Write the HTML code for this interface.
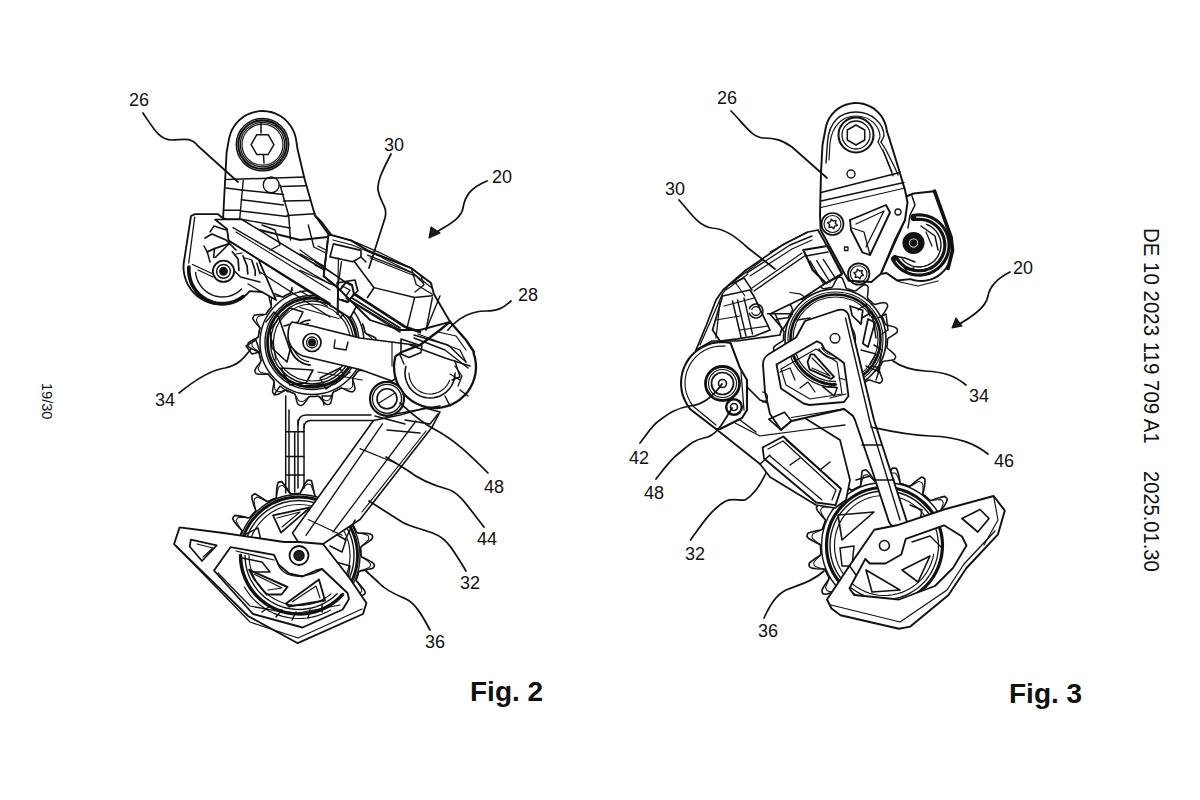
<!DOCTYPE html>
<html><head><meta charset="utf-8">
<style>
html,body{margin:0;padding:0;background:#fff;width:1200px;height:800px;overflow:hidden;}
body{position:relative;font-family:"Liberation Sans",sans-serif;color:#111;}
.t{position:absolute;white-space:nowrap;line-height:1;}
.rot{transform-origin:0 0;transform:rotate(90deg);}
.fig{font-weight:bold;font-size:28px;}
svg{position:absolute;left:0;top:0;}
svg text{font-family:"Liberation Sans",sans-serif;fill:#111;stroke:none;}
</style></head><body>
<svg width="1200" height="800" viewBox="0 0 1200 800" fill="none" stroke="#111" stroke-width="1.5" stroke-linecap="round" stroke-linejoin="round">
<path d="M342.8,511.7 L344.6,512.1 L348.5,510.7 L352.4,509.4 L356.5,508.3 L358.9,508.7 L360.0,510.2 L360.1,512.4 L358.0,516.1 L355.7,519.5 L353.3,522.9 L352.9,524.9 L353.7,526.3 L354.4,527.6 L355.0,529.0 L355.7,530.3 L356.3,531.7 L357.6,532.8 L361.8,533.0 L365.9,533.4 L370.1,533.9 L372.2,535.2 L372.7,537.0 L372.0,539.0 L368.7,541.6 L365.3,543.9 L361.8,546.1 L360.5,547.9 L360.7,549.4 L360.8,550.9 L360.9,552.4 L361.0,553.9 L361.0,555.4 L361.8,557.0 L365.5,558.7 L369.2,560.6 L372.8,562.7 L374.4,564.7 L374.2,566.6 L372.9,568.2 L368.8,569.3 L364.7,570.2 L360.7,570.9 L358.8,571.9 L358.4,573.4 L357.9,574.9 L357.4,576.3 L356.9,577.7 L356.3,579.1 L356.4,580.8 L359.2,583.8 L361.8,587.0 L364.4,590.3 L365.2,592.8 L364.3,594.4 L362.5,595.5 L358.3,595.0 L354.2,594.2 L350.2,593.3 L348.0,593.5 L347.0,594.7 L346.0,595.9 L345.0,597.0 L344.0,598.2 L342.9,599.2 L342.3,600.7 L343.7,604.6 L345.0,608.6 L346.1,612.6 L345.9,615.3 L344.4,616.4 L342.4,616.8 L338.8,614.7 L335.3,612.5 L331.9,610.1 L329.7,609.4 L328.4,610.1 L327.0,610.8 L325.7,611.5 L324.3,612.1 L322.9,612.7 L321.7,613.8 L321.5,617.9 L321.2,622.0 L320.7,626.2 L319.5,628.7 L317.7,629.2 L315.7,628.8 L313.1,625.5 L310.8,622.1 L308.6,618.6 L306.8,617.0 L305.3,617.2 L303.8,617.3 L302.2,617.4 L300.7,617.5 L299.2,617.5 L297.7,617.9 L296.0,621.7 L294.1,625.4 L292.0,629.0 L290.0,631.0 L288.1,630.7 L286.4,629.7 L285.3,625.7 L284.4,621.6 L283.7,617.5 L282.7,615.3 L281.2,614.9 L279.8,614.4 L278.3,614.0 L276.9,613.4 L275.5,612.9 L274.0,612.6 L271.0,615.4 L267.8,618.1 L264.5,620.7 L261.8,621.8 L260.2,620.8 L258.9,619.3 L259.5,615.2 L260.2,611.1 L261.1,607.0 L261.1,604.5 L259.9,603.6 L258.7,602.6 L257.6,601.6 L256.4,600.6 L255.4,599.5 L254.1,598.6 L250.2,600.1 L246.3,601.4 L242.3,602.5 L239.3,602.5 L238.2,601.1 L237.5,599.2 L239.6,595.6 L241.8,592.1 L244.2,588.7 L245.2,586.3 L244.5,585.0 L243.8,583.6 L243.1,582.3 L242.4,580.9 L241.8,579.5 L241.1,578.2 L237.0,578.0 L232.9,577.7 L228.7,577.2 L225.9,576.1 L225.4,574.4 L225.4,572.4 L228.7,569.9 L232.1,567.5 L235.6,565.3 L237.5,563.4 L237.3,561.9 L237.2,560.4 L237.1,558.9 L237.0,557.4 L237.0,555.8 L236.9,554.3 L233.2,552.6 L229.5,550.8 L225.8,548.7 L223.5,546.6 L223.8,544.8 L224.4,543.0 L228.5,541.9 L232.5,541.0 L236.6,540.3 L239.1,539.3 L239.6,537.9 L240.0,536.4 L240.5,535.0 L241.0,533.5 L241.6,532.1 L242.2,530.7 L239.3,527.7 L236.6,524.6 L234.0,521.3 L232.6,518.5 L233.6,516.8 L234.8,515.4 L238.9,515.9 L243.1,516.6 L247.1,517.5 L249.9,517.7 L250.8,516.5 L251.8,515.3 L252.8,514.2 L253.8,513.0 L254.9,512.0 L255.9,510.9 L254.5,507.1 L253.2,503.2 L252.1,499.1 L251.8,495.9 L253.3,494.8 L254.9,493.8 L258.6,495.9 L262.1,498.1 L265.5,500.5 L268.1,501.8 L269.4,501.0 L270.7,500.3 L272.1,499.6 L273.5,499.0 L274.9,498.4 L276.3,497.8 L276.4,493.9 L276.7,489.7 L277.2,485.6 L278.2,482.4 L280.0,481.9 L281.8,481.6 L284.4,484.9 L286.8,488.3 L289.1,491.8 L290.9,494.0 L292.5,493.8 L294.0,493.7 L295.5,493.6 L297.0,493.5 L298.5,493.5 L300.0,493.5 L301.7,490.0 L303.6,486.3 L305.6,482.7 L307.7,480.0 L309.5,480.2 L311.4,480.5 L312.5,484.6 L313.4,488.7 L314.2,492.7 L315.0,495.6" stroke-width="1.61"/>
<path d="M342.8,511.7 L344.4,512.3 L347.5,511.6 L350.6,511.0 L353.7,510.6 L355.8,511.2 L356.8,512.6 L357.1,514.5 L355.9,517.5 L354.5,520.3 L353.0,523.1 L352.9,524.9 L353.7,526.3 L354.4,527.6 L355.0,529.0 L355.7,530.3 L356.3,531.7 L357.4,532.9 L360.5,533.5 L363.6,534.1 L366.7,534.9 L368.4,536.2 L368.8,538.0 L368.4,539.8 L366.1,542.1 L363.8,544.2 L361.4,546.2 L360.5,547.9 L360.7,549.4 L360.8,550.9 L360.9,552.4 L361.0,553.9 L361.0,555.4 L361.5,557.0 L364.2,558.6 L366.8,560.4 L369.4,562.3 L370.5,564.2 L370.2,566.0 L369.2,567.6 L366.2,568.8 L363.2,569.8 L360.2,570.7 L358.8,571.9 L358.4,573.4 L357.9,574.9 L357.4,576.3 L356.9,577.7 L356.3,579.1 L356.2,580.7 L358.0,583.3 L359.7,585.9 L361.4,588.7 L361.7,590.9 L360.8,592.4 L359.3,593.5 L356.1,593.5 L352.9,593.3 L349.8,593.0 L348.0,593.5 L347.0,594.7 L346.0,595.9 L345.0,597.0 L344.0,598.2 L342.9,599.2 L342.2,600.6 L342.9,603.7 L343.4,606.8 L343.9,610.0 L343.4,612.2 L342.0,613.2 L340.2,613.7 L337.3,612.5 L334.4,611.1 L331.6,609.6 L329.7,609.4 L328.4,610.1 L327.0,610.8 L325.7,611.5 L324.3,612.1 L322.9,612.7 L321.6,613.6 L321.1,616.7 L320.5,619.8 L319.7,622.9 L318.4,624.8 L316.7,625.3 L314.9,625.1 L312.6,622.9 L310.5,620.5 L308.5,618.1 L306.8,617.0 L305.3,617.2 L303.8,617.3 L302.2,617.4 L300.7,617.5 L299.2,617.5 L297.7,617.8 L296.0,620.5 L294.2,623.1 L292.3,625.6 L290.4,627.0 L288.7,626.8 L287.0,626.0 L285.8,623.0 L284.8,620.0 L283.8,617.0 L282.7,615.3 L281.2,614.9 L279.8,614.4 L278.3,614.0 L276.9,613.4 L275.5,612.9 L274.0,612.5 L271.5,614.3 L268.8,616.1 L266.1,617.7 L263.8,618.3 L262.2,617.4 L261.0,616.1 L261.0,612.9 L261.2,609.7 L261.4,606.6 L261.1,604.5 L259.9,603.6 L258.7,602.6 L257.6,601.6 L256.4,600.6 L255.4,599.5 L254.2,598.6 L251.1,599.3 L248.0,599.9 L244.8,600.4 L242.4,600.1 L241.4,598.7 L240.6,597.0 L241.9,594.1 L243.3,591.2 L244.7,588.4 L245.2,586.3 L244.5,585.0 L243.8,583.6 L243.1,582.3 L242.4,580.9 L241.8,579.5 L241.1,578.2 L238.1,577.7 L235.0,577.0 L231.9,576.2 L229.7,575.1 L229.3,573.4 L229.1,571.6 L231.4,569.3 L233.8,567.2 L236.2,565.2 L237.5,563.4 L237.3,561.9 L237.2,560.4 L237.1,558.9 L237.0,557.4 L237.0,555.8 L236.9,554.3 L234.3,552.7 L231.7,550.9 L229.1,549.0 L227.5,547.1 L227.7,545.3 L228.2,543.6 L231.2,542.4 L234.2,541.4 L237.2,540.4 L239.1,539.3 L239.6,537.9 L240.0,536.4 L240.5,535.0 L241.0,533.5 L241.6,532.1 L242.2,530.7 L240.3,528.2 L238.6,525.6 L236.9,522.8 L236.1,520.4 L237.0,518.9 L238.1,517.5 L241.3,517.5 L244.5,517.6 L247.6,517.9 L249.9,517.7 L250.8,516.5 L251.8,515.3 L252.8,514.2 L253.8,513.0 L254.9,512.0 L255.9,510.9 L255.3,507.9 L254.6,504.8 L254.2,501.6 L254.3,499.0 L255.7,498.0 L257.2,497.0 L260.2,498.3 L263.1,499.6 L265.9,501.1 L268.1,501.8 L269.4,501.0 L270.7,500.3 L272.1,499.6 L273.5,499.0 L274.9,498.4 L276.3,497.8 L276.8,494.8 L277.4,491.7 L278.2,488.6 L279.3,486.3 L281.0,485.8 L282.7,485.4 L285.0,487.7 L287.1,490.1 L289.2,492.5 L290.9,494.0 L292.5,493.8 L294.0,493.7 L295.5,493.6 L297.0,493.5 L298.5,493.5 L300.0,493.5 L301.7,491.0 L303.4,488.4 L305.3,485.8 L307.2,484.0 L309.0,484.2 L310.7,484.5 L312.0,487.5 L313.1,490.4 L314.0,493.4 L315.0,495.6" stroke-width="1.03"/>
<circle cx="299.0" cy="555.5" r="61.0" stroke-width="1.38" fill="#fff"/>
<circle cx="299.0" cy="555.5" r="58.5" stroke-width="2.99"/>
<circle cx="299.0" cy="555.5" r="55.0" stroke-width="1.38"/>
<circle cx="299.0" cy="555.5" r="51.0" stroke-width="1.15"/>
<path d="M273.0,515.3 L310.3,507.3 L281.0,532.7 L273.0,515.3" stroke-width="1.72"/>
<path d="M277.0,518.0 L300.0,512.0 L282.0,527.0" stroke-width="1.15"/>
<path d="M244.0,535.0 L258.0,528.0 L262.0,545.0 L250.0,548.0 L244.0,535.0" stroke-width="1.49"/>
<path d="M332.0,532.0 L346.0,540.0 L342.0,552.0 L330.0,546.0" stroke-width="1.49"/>
<path d="M336.0,562.0 L350.0,566.0 L346.0,590.0 L334.0,586.0" stroke-width="1.49"/>
<path d="M285.7,396.0 L285.7,493.0" stroke-width="1.49"/>
<path d="M289.0,410.0 L289.0,492.0"/>
<path d="M294.7,432.0 L294.7,492.0"/>
<path d="M298.0,420.0 L298.0,488.0"/>
<path d="M304.0,424.0 L304.0,488.0" stroke-width="1.49"/>
<path d="M298,425 Q298,415 306,415 L371,415" stroke-width="1.49"/>
<path d="M304,428 Q304,420.5 311,420.5 L373,420.5" stroke-width="1.26"/>
<path d="M286.0,431.7 L304.0,431.7"/>
<path d="M286.0,456.5 L304.0,456.5"/>
<path d="M286.0,475.0 L304.0,475.0"/>
<path d="M362.7,324.0 L363.2,325.5 L363.7,326.9 L364.1,328.3 L364.5,329.8 L364.8,331.3 L365.1,332.7 L367.1,334.0 L370.0,335.2 L372.9,336.5 L375.7,338.0 L375.9,339.8 L376.0,341.6 L374.1,343.3 L371.4,345.0 L368.6,346.4 L365.8,347.7 L365.6,349.2 L365.4,350.7 L365.1,352.2 L364.8,353.7 L364.5,355.2 L364.1,356.6 L365.1,358.5 L367.2,360.8 L369.3,363.3 L371.2,365.9 L370.9,367.6 L370.1,369.3 L367.9,370.2 L364.7,370.5 L361.6,370.6 L358.5,370.6 L357.4,371.7 L356.6,372.9 L355.7,374.2 L354.8,375.4 L353.9,376.6 L352.9,377.7 L352.9,379.7 L353.7,382.7 L354.5,385.8 L355.1,388.9 L354.2,390.6 L352.9,391.7 L350.7,391.8 L347.7,390.7 L344.8,389.4 L341.9,388.1 L340.4,388.4 L339.1,389.2 L337.8,389.9 L336.5,390.6 L335.1,391.3 L333.7,391.9 L332.7,393.4 L332.2,396.5 L331.6,399.6 L330.8,402.7 L329.4,404.1 L327.6,404.6 L325.7,403.9 L323.4,401.6 L321.3,399.2 L319.4,396.8 L317.8,396.2 L316.3,396.3 L314.8,396.4 L313.3,396.5 L311.8,396.5 L310.3,396.5 L308.7,397.1 L307.0,399.7 L305.1,402.2 L303.0,404.7 L301.1,405.6 L299.3,405.2 L297.8,404.0 L296.7,401.0 L295.9,397.9 L295.2,394.9 L294.1,393.4 L292.6,392.9 L291.2,392.4 L289.9,391.8 L288.5,391.1 L287.2,390.4 L285.6,390.1 L282.9,391.7 L280.1,393.2 L277.2,394.5 L274.9,394.7 L273.5,393.6 L272.5,392.1 L272.8,388.9 L273.4,385.8 L274.0,382.7 L273.8,380.7 L272.8,379.6 L271.8,378.5 L270.8,377.4 L269.8,376.2 L268.9,375.0 L267.8,373.9 L264.7,374.2 L261.6,374.3 L258.4,374.3 L256.1,373.6 L255.2,372.0 L254.7,370.3 L256.4,367.5 L258.2,364.9 L260.2,362.5 L261.1,360.5 L260.6,359.1 L260.2,357.6 L259.8,356.2 L259.4,354.7 L259.1,353.2 L258.8,351.8 L255.9,350.7 L253.0,349.4 L250.2,348.0 L248.1,346.4 L248.0,344.6 L248.1,342.8 L250.8,341.1 L253.6,339.5 L256.4,338.1 L258.3,336.8 L258.5,335.3 L258.7,333.8 L259.0,332.3 L259.3,330.8 L259.6,329.4 L260.0,327.9 L258.1,325.7 L256.1,323.4 L254.1,320.9 L252.7,318.5 L253.4,316.8 L254.1,315.2 L257.2,314.7 L260.3,314.5 L263.5,314.4 L266.0,314.2 L266.8,312.9 L267.7,311.6 L268.6,310.4 L269.5,309.2 L270.4,308.0 L271.4,306.9 L270.8,304.3 L270.0,301.3 L269.3,298.2 L268.9,295.2 L270.2,294.0 L271.6,292.9 L274.4,293.6 L277.3,294.7 L280.2,296.0 L282.8,297.1 L284.0,296.3 L285.3,295.5 L286.7,294.8 L288.0,294.1 L289.4,293.5 L290.7,292.9 L291.4,290.5 L292.0,287.4" stroke-width="1.49"/>
<circle cx="312.0" cy="342.5" r="52.0" stroke-width="1.49" fill="#fff"/>
<circle cx="312.0" cy="342.5" r="47.0" stroke-width="1.38"/>
<circle cx="312.0" cy="342.5" r="44.5" stroke-width="2.76"/>
<circle cx="312.0" cy="342.5" r="41.5" stroke-width="1.38"/>
<circle cx="312.0" cy="342.5" r="38.5" stroke-width="1.15"/>
<path d="M362.7,324.0 L363.2,325.5 L363.7,326.9 L364.1,328.3 L364.5,329.8 L364.8,331.3 L365.1,332.7 L366.4,334.1 L368.2,335.4 L370.0,336.8 L371.8,338.3 L371.9,340.0 L372.0,341.6 L370.9,343.3 L369.2,344.9 L367.5,346.3 L365.8,347.7 L365.6,349.2 L365.4,350.7 L365.1,352.2 L364.8,353.7 L364.5,355.2 L364.1,356.6 L364.6,358.3 L365.7,360.3 L366.7,362.3 L367.6,364.4 L367.2,366.1 L366.5,367.6 L364.9,368.7 L362.7,369.4 L360.5,370.0 L358.4,370.5 L357.4,371.7 L356.6,372.9 L355.7,374.2 L354.8,375.4 L353.9,376.6 L352.9,377.7 L352.5,379.4 L352.6,381.6 L352.6,383.9 L352.6,386.2 L351.6,387.6 L350.3,388.7 L348.5,389.1 L346.2,388.8 L344.0,388.4 L341.8,387.9 L340.4,388.4 L339.1,389.2 L337.8,389.9 L336.5,390.6 L335.1,391.3 L333.7,391.9 L332.6,393.1 L331.7,395.1 L330.8,397.2 L329.7,399.3 L328.3,400.3 L326.7,400.7 L324.9,400.4 L323.0,399.2 L321.1,397.8 L319.3,396.5 L317.8,396.2 L316.3,396.3 L314.8,396.4 L313.3,396.5 L311.8,396.5 L310.3,396.5 L308.7,396.8 L307.1,398.3 L305.3,399.8 L303.5,401.2 L301.8,401.6 L300.1,401.3 L298.6,400.5 L297.4,398.5 L296.3,396.5 L295.3,394.5 L294.1,393.4 L292.6,392.9 L291.2,392.4 L289.9,391.8 L288.5,391.1 L287.2,390.4 L285.7,390.0 L283.5,390.6 L281.4,391.2 L279.1,391.7 L277.3,391.4 L275.9,390.4 L274.8,389.1 L274.6,386.8 L274.4,384.6 L274.4,382.3 L273.8,380.7 L272.8,379.6 L271.8,378.5 L270.8,377.4 L269.8,376.2 L268.9,375.0 L267.9,373.9 L265.7,373.6 L263.5,373.1 L261.2,372.6 L259.5,371.6 L258.8,370.2 L258.2,368.6 L259.0,366.4 L259.8,364.3 L260.7,362.2 L261.1,360.5 L260.6,359.1 L260.2,357.6 L259.8,356.2 L259.4,354.7 L259.1,353.2 L258.8,351.8 L257.0,350.5 L255.2,349.2 L253.4,347.7 L252.1,346.2 L252.0,344.5 L252.0,342.8 L253.7,341.2 L255.4,339.6 L257.1,338.2 L258.3,336.8 L258.5,335.3 L258.7,333.8 L259.0,332.3 L259.3,330.8 L259.6,329.4 L260.0,327.9 L259.1,326.0 L258.0,324.0 L257.0,322.0 L256.4,320.0 L257.0,318.4 L257.7,316.9 L259.8,316.1 L262.0,315.4 L264.2,314.8 L266.0,314.2 L266.8,312.9 L267.7,311.6 L268.6,310.4 L269.5,309.2 L270.4,308.0 L271.4,306.9 L271.5,304.9 L271.4,302.7 L271.4,300.4 L271.6,298.2 L272.8,297.1 L274.1,296.0 L276.2,296.0 L278.5,296.4 L280.7,296.8 L282.8,297.1 L284.0,296.3 L285.3,295.5 L286.7,294.8 L288.0,294.1 L289.4,293.5 L290.7,292.9 L291.7,291.2 L292.6,289.2" stroke-width="1.03"/>
<path d="M270.0,330.0 L279.0,318.0 L290.0,350.0 L287.0,362.0 L272.0,348.0 L270.0,330.0" stroke-width="1.61"/>
<path d="M281.0,368.0 L313.0,370.0 L306.0,383.0 L290.0,385.0 L281.0,368.0" stroke-width="1.61"/>
<path d="M320.0,378.0 L340.0,368.0 L344.0,376.0 L326.0,389.0 L320.0,378.0" stroke-width="1.49"/>
<path d="M280.0,318.0 L290.0,308.0 L303.0,312.0 L298.0,322.0 L284.0,326.0" stroke-width="1.49"/>
<path d="M330.0,306.0 L345.0,312.0 L340.0,318.0" stroke-width="1.26"/>
<path d="M266.0,322.0 L274.0,312.0 L280.0,318.0" stroke-width="1.38"/>
<path d="M268.0,352.0 L278.0,372.0" stroke-width="1.38"/>
<path d="M300.0,386.0 L330.0,384.0" stroke-width="1.38"/>
<path d="M335.0,384.0 L350.0,372.0" stroke-width="1.38"/>
<path d="M272.0,340.0 L276.0,360.0" stroke-width="1.15"/>
<path d="M310.0,364.9 L308.4,364.7 L306.7,364.4 L305.1,363.9 L303.6,363.4 L302.0,362.7 L300.6,361.9 L299.2,361.0 L297.8,360.0 L296.6,358.9 L295.4,357.7 L294.3,356.4 L293.3,355.1 L292.5,353.7 L291.7,352.2 L291.0,350.7 L290.5,349.1 L290.1,347.5 L289.7,345.8 L289.6,344.2 L289.5,342.5 L289.6,340.8 L289.7,339.2 L290.1,337.5 L290.5,335.9 L291.0,334.3 L291.7,332.8 L292.5,331.3 L293.3,329.9 L294.3,328.6 L295.4,327.3 L296.6,326.1 L297.8,325.0 L299.2,324.0 L300.6,323.1 L302.0,322.3 L303.6,321.6 L305.1,321.1 L306.7,320.6 L308.4,320.3 L310.0,320.1" stroke-width="1.61"/>
<path d="M308.6,361.7 L307.3,361.4 L306.0,361.0 L304.7,360.6 L303.5,360.0 L302.2,359.4 L301.1,358.7 L300.0,357.9 L299.0,357.0 L298.0,356.0 L297.1,355.0 L296.2,354.0 L295.5,352.8 L294.8,351.7 L294.2,350.4 L293.7,349.2 L293.3,347.9 L292.9,346.6 L292.7,345.2 L292.5,343.9 L292.5,342.5 L292.5,341.1 L292.7,339.8 L292.9,338.4 L293.3,337.1 L293.7,335.8 L294.2,334.6 L294.8,333.3 L295.5,332.2 L296.2,331.0 L297.1,330.0 L298.0,329.0 L299.0,328.0 L300.0,327.1 L301.1,326.3 L302.2,325.6 L303.5,325.0 L304.7,324.4 L306.0,324.0 L307.3,323.6 L308.6,323.3" stroke-width="1.26"/>
<path d="M246.0,346.0 L256.0,340.0 L260.0,352.0 L252.0,354.0 L246.0,346.0" stroke-width="1.49"/>
<path d="M274.0,395.0 L280.0,386.0 L288.0,392.0" stroke-width="1.38"/>
<path d="M324.0,405.0 L322.0,396.0 L332.0,396.0" stroke-width="1.38"/>
<path d="M218.0,214.2 L195.0,214.2 L191.0,216.0 L183.6,264.0 L183.6,265.0 L183.5,268.9 L184.0,272.8 L184.8,276.6 L186.0,280.3 L187.5,283.9 L189.5,287.3 L191.7,290.5 L194.3,293.4 L197.2,296.0 L200.3,298.3 L203.7,300.3 L207.3,301.9 L211.0,303.1 L214.8,304.0 L218.6,304.4 L222.5,304.5 L226.4,304.1 L230.2,303.3 L234.0,302.2 L237.5,300.7 L240.9,298.8 L244.1,296.5 L247.1,294.0 L249.7,291.1 L262.0,292.0 L276.0,300.0 L250.0,240.0 L218.0,214.2" stroke-width="1.84" fill="#fff"/>
<path d="M194.7,217.2 L188.7,263.0" stroke-width="1.26"/>
<path d="M188.9,267.1 L188.8,270.3 L189.0,273.6 L189.5,276.8 L190.3,279.9 L191.4,283.0 L192.8,286.0 L194.5,288.7 L196.4,291.4 L198.6,293.8 L201.0,296.0 L203.6,297.9 L206.4,299.6 L209.4,301.0 L212.4,302.2 L215.6,303.0 L218.8,303.5 L222.0,303.7 L225.3,303.6 L228.5,303.2 L231.7,302.4 L234.8,301.4 L237.8,300.0 L240.6,298.4 L243.2,296.6" stroke-width="3.68"/>
<path d="M195.6,272.4 L196.0,275.4 L196.8,278.3 L197.9,281.2 L199.4,283.9 L201.1,286.4 L203.1,288.8 L205.3,290.8 L207.8,292.6 L210.5,294.2 L213.3,295.4 L216.2,296.3 L219.2,296.8 L222.3,297.0 L225.3,296.9 L228.3,296.4 L231.3,295.5 L234.1,294.4 L236.8,292.9 L239.3,291.1 L241.6,289.1" stroke-width="1.38"/>
<path d="M192.5,264.5 L212.0,273.5" stroke-width="1.26"/>
<path d="M198.0,270.0 L213.0,277.0" stroke-width="1.26"/>
<path d="M207.2,251.8 L214.5,248.6 L229.1,243.7" stroke-width="1.84"/>
<path d="M214.5,248.6 L213.7,257.5" stroke-width="1.61"/>
<path d="M229.1,243.7 L215.3,257.5" stroke-width="1.61"/>
<path d="M205.0,238.0 L212.0,234.0 L226.0,240.0 L236.0,250.0" stroke-width="1.72"/>
<path d="M204.0,246.0 L207.2,251.8 L210.0,262.0" stroke-width="1.49"/>
<path d="M210.0,232.0 L214.0,226.0 L226.0,230.0" stroke-width="1.38"/>
<path d="M232.4,251.8 L238.1,259.1 L238.9,270.5" stroke-width="1.72"/>
<path d="M243.0,255.9 L247.0,265.7 L247.8,273.8" stroke-width="1.72"/>
<path d="M251.9,260.8 L255.2,270.5 L255.2,275.4" stroke-width="1.61"/>
<path d="M256.8,263.2 L260.0,273.8" stroke-width="1.49"/>
<path d="M236.0,254.0 L242.0,253.0" stroke-width="1.26"/>
<path d="M245.0,258.0 L252.0,260.0" stroke-width="1.26"/>
<path d="M234.0,270.5 L240.5,277.0 L260.0,282.0" stroke-width="1.49"/>
<circle cx="223.5" cy="271.3" r="10.6" stroke-width="1.84" fill="#fff"/>
<circle cx="223.5" cy="271.3" r="6.9" stroke-width="1.49"/>
<circle cx="223.5" cy="271.3" r="3.7" fill="#111"/>
<path d="M248.0,284.0 L262.0,292.0" stroke-width="1.26"/>
<path d="M223.1,218.0 L226.6,152.5 L229.2,137.9 L230.3,134.2 L231.7,130.5 L233.6,127.1 L235.8,123.9 L238.4,121.0 L241.3,118.4 L244.5,116.1 L248.0,114.3 L251.6,112.8 L255.3,111.8 L259.2,111.2 L263.1,111.0 L267.0,111.3 L270.8,112.0 L274.5,113.2 L278.1,114.8 L281.5,116.8 L284.6,119.1 L287.4,121.8 L289.9,124.9 L292.0,128.1 L293.8,131.6 L295.1,135.3 L296.0,139.1 L297.5,149.0 L304.5,178.7 L315.0,215.5 L322.0,222.5 L332.5,236.5 L300.0,240.0 L240.0,225.0 L223.1,218.0" stroke-width="1.84" fill="#fff"/>
<circle cx="262.5" cy="144.6" r="26.2" stroke-width="1.49"/>
<circle cx="262.5" cy="144.6" r="24.2" stroke-width="2.07"/>
<circle cx="262.5" cy="144.6" r="22.2" stroke-width="1.26"/>
<circle cx="262.5" cy="144.6" r="20.5" stroke-width="1.15"/>
<path d="M273.9,144.6 L268.2,154.5 L256.8,154.5 L251.1,144.6 L256.8,134.7 L268.2,134.7 Z" stroke-width="1.49"/>
<path d="M261.0,123.5 L261.0,133.0"/>
<path d="M263.5,155.5 L264.0,163.0"/>
<path d="M226.6,179.6 L304.5,177.0" stroke-width="1.49"/>
<path d="M241.5,190.0 L283.5,194.5"/>
<path d="M280.9,186.6 L305.4,185.7"/>
<path d="M226.0,188.0 L241.5,190.0"/>
<path d="M241.5,199.7 L283.5,205.0"/>
<path d="M283.5,201.0 L309.7,200.5"/>
<path d="M224.0,210.2 L239.7,210.2"/>
<path d="M240.6,211.0 L287.0,216.4"/>
<path d="M287.0,215.5 L315.0,213.7"/>
<path d="M243.2,180.5 L239.7,219.0" stroke-width="1.38"/>
<circle cx="271.2" cy="184.9" r="7.9" stroke-width="1.38"/>
<path d="M280.0,184.9 L288.7,215.5 L290.5,240.0" stroke-width="1.49"/>
<path d="M224.0,219.0 L240.0,219.0 L290.0,228.0" stroke-width="1.38"/>
<path d="M215.0,219.5 L242.0,219.5 L330.0,273.5 L345.0,288.0 L360.0,300.0 L350.0,318.0 L330.0,305.0 L228.5,240.5 L227.0,229.0 L215.0,219.5" stroke-width="1.61" fill="#fff"/>
<path d="M233.0,227.7 L330.0,284.0" stroke-width="1.38"/>
<path d="M228.5,240.5 L330.0,303.5" stroke-width="1.49"/>
<path d="M236.0,232.0 L330.0,290.0" stroke-width="1.15"/>
<path d="M260.0,272.0 L330.0,317.0" stroke-width="1.38"/>
<path d="M227.0,229.0 L229.0,242.0"/>
<path d="M262.0,225.0 L275.0,230.0 L280.0,245.0 L270.0,250.0" stroke-width="1.38"/>
<path d="M318.0,246.0 L330.0,252.0 L326.0,270.0 L315.0,265.0" stroke-width="1.38"/>
<path d="M315.0,215.5 L328.5,234.1 L351.2,240.6 L367.5,250.4 L411.3,268.2 L430.8,282.8 L434.0,294.2 L450.0,321.8 L420.0,330.0 L400.0,330.0 L370.0,320.0 L338.0,288.0 L323.6,276.3 L328.5,234.1" stroke-width="1.84" fill="#fff"/>
<path d="M367.5,255.2 L413.0,273.1 L422.7,282.8" stroke-width="1.26"/>
<path d="M370.0,258.0 L415.0,276.0" stroke-width="1.15"/>
<path d="M328.5,234.1 L323.6,276.3 L338.2,287.7" stroke-width="1.72"/>
<path d="M333.4,243.9 L361.0,250.4 L361.0,256.9 L352.8,261.7 L330.0,256.9 L333.4,243.9" stroke-width="1.61"/>
<path d="M354.5,261.7 L374.0,287.7 L367.5,297.5" stroke-width="1.61"/>
<path d="M341.5,261.7 L338.2,284.5" stroke-width="1.38"/>
<path d="M361.0,257.0 L366.0,262.0"/>
<path d="M374.0,287.7 L414.6,297.5 L432.4,295.8" stroke-width="1.38"/>
<path d="M414.6,297.5 L406.5,330.0" stroke-width="1.38"/>
<path d="M432.4,297.5 L426.0,330.0" stroke-width="1.38"/>
<path d="M411.3,268.2 L416.2,284.5 L432.4,294.2" stroke-width="1.26"/>
<path d="M351.2,300.7 L400.0,330.0" stroke-width="1.26"/>
<path d="M338.2,287.7 L338.2,313.7" stroke-width="1.26"/>
<path d="M369.0,252.0 L411.3,268.2" stroke-width="1.15"/>
<path d="M340.0,290.0 L346.0,282.0 L352.0,285.0 L354.0,294.0 L348.0,302.0 L342.0,300.0" stroke-width="2.07"/>
<path d="M354.5,294.2 L404.8,326.7 L420.0,332.0" stroke-width="2.76"/>
<path d="M346.0,298.0 L400.0,332.0" stroke-width="1.61"/>
<path d="M315.0,262.0 L350.0,285.0" stroke-width="1.38"/>
<path d="M300.0,250.0 L345.0,282.0" stroke-width="1.26"/>
<path d="M308.3,225.0 L313.8,247.0 L324.8,252.5" stroke-width="1.38"/>
<path d="M382.5,258.0 L412.8,273.0 L432.0,288.0" stroke-width="1.15"/>
<path d="M352.0,298.0 L400.0,328.0" stroke-width="1.84"/>
<path d="M300.0,253.9 L324.8,266.3" stroke-width="1.26"/>
<path d="M300.0,270.4 L334.4,285.5" stroke-width="1.26"/>
<path d="M300.0,291.0 L327.5,306.2" stroke-width="1.26"/>
<path d="M338.5,258.0 L337.1,314.4" stroke-width="1.15"/>
<path d="M300.0,307.5 L338.5,318.5" stroke-width="1.26"/>
<path d="M337.1,282.8 L355.0,280.0 L357.8,291.0 L346.8,302.0 L338.5,299.3 L337.1,282.8" stroke-width="1.72"/>
<path d="M342.0,286.0 L350.0,290.0 L346.0,296.0" stroke-width="1.38"/>
<path d="M421.0,275.9 L424.0,285.0 L415.0,292.0" stroke-width="1.26"/>
<path d="M328.9,234.6 L350.9,240.1 L382.5,253.9 L412.8,269.0 L421.0,275.9 L432.0,284.1" stroke-width="1.15"/>
<path d="M333.0,240.0 L352.0,245.0 L384.0,258.0" stroke-width="1.15"/>
<path d="M292,322 L312,326 L360,338 L415,345 L420,362 L392,381 L360,369.5 L303,356 C295,353 288,345 288,336 C288,328 290,324 292,322 Z" stroke-width="1.72" fill="#fff"/>
<circle cx="312.0" cy="342.5" r="9.0" stroke-width="1.72" fill="#fff"/>
<circle cx="312.0" cy="342.5" r="5.5" stroke-width="1.26"/>
<circle cx="312.0" cy="342.5" r="3.2" fill="#1a1a1a"/>
<path d="M310.0,364.9 L309.2,364.8 L308.4,364.7 L307.6,364.6 L306.7,364.4 L305.9,364.2 L305.1,363.9 L304.4,363.7 L303.6,363.4 L302.8,363.0 L302.0,362.7 L301.3,362.3 L300.6,361.9 L299.9,361.4 L299.2,361.0 L298.5,360.5 L297.8,360.0 L297.2,359.4 L296.6,358.9 L296.0,358.3 L295.4,357.7 L294.9,357.1 L294.3,356.4 L293.8,355.8 L293.3,355.1 L292.9,354.4 L292.5,353.7 L292.1,352.9 L291.7,352.2 L291.3,351.4 L291.0,350.7 L290.7,349.9 L290.5,349.1 L290.3,348.3 L290.1,347.5 L289.9,346.6 L289.7,345.8 L289.6,345.0 L289.6,344.2 L289.5,343.3 L289.5,342.5" stroke-width="1.38"/>
<path d="M335.0,340.0 L334.0,348.0 L346.0,350.0 L348.0,342.0" stroke-width="1.38"/>
<path d="M318.0,372.0 L362.0,380.0" stroke-width="1.26"/>
<path d="M392.0,342.0 L392.0,366.0" stroke-width="1.15"/>
<path d="M450.0,321.8 L466.0,340.0 L474.0,352.0 L473.5,353.0 L475.0,357.9 L475.8,363.0 L476.0,368.1 L475.5,373.2 L474.4,378.2 L472.7,383.0 L470.4,387.6 L467.6,391.9 L464.2,395.7 L460.4,399.2 L456.2,402.1 L451.7,404.5 L446.9,406.2 L441.9,407.4 L436.8,408.0 L431.7,407.9 L426.6,407.1 L421.7,405.8 L416.9,403.8 L412.5,401.3 L408.4,398.2 L404.7,394.6 L401.5,390.6 L398.8,386.2 L396.7,381.6 L395.2,376.7 L394.3,371.6 L394.0,366.5 L394.4,361.4 L395.4,356.4 L402.0,352.0 L420.0,345.0 L440.0,330.0 L450.0,321.8" stroke-width="2.30" fill="#fff"/>
<path d="M455.0,373.0 L454.7,376.5 L454.0,380.0 L452.8,383.3 L451.1,386.4 L449.0,389.3 L446.5,391.8 L443.7,393.9 L440.6,395.7 L437.3,396.9 L433.8,397.7 L430.3,398.0 L426.7,397.8 L423.3,397.1 L419.9,395.9 L416.8,394.2 L413.9,392.2 L411.4,389.7 L409.2,386.9 L407.5,383.8 L406.2,380.5 L405.3,377.1 L405.0,373.5 L405.2,370.0 L405.9,366.5" stroke-width="1.61"/>
<path d="M449.7,380.2 L448.5,382.9 L447.0,385.3 L445.1,387.6 L442.9,389.5 L440.5,391.2 L437.9,392.5 L435.1,393.4 L432.2,393.9 L429.3,394.0 L426.4,393.7 L423.5,393.0 L420.8,391.9 L418.3,390.4 L415.9,388.6 L413.9,386.5 L412.2,384.1 L410.8,381.5 L409.8,378.8 L409.2,375.9 L409.0,373.0" stroke-width="1.15"/>
<path d="M400.0,355.0 L404.0,364.0" stroke-width="1.38"/>
<path d="M414.0,338.0 L445.0,350.0 L468.0,368.0" stroke-width="1.38"/>
<path d="M418.0,334.0 L460.0,350.0 L466.0,362.0" stroke-width="1.26"/>
<path d="M438.0,332.0 L456.0,336.0 L466.0,350.0" stroke-width="1.26"/>
<path d="M401.0,339.0 L422.0,346.0 L421.0,352.5 L409.0,357.5 L401.0,354.0 L401.0,339.0" stroke-width="1.61"/>
<path d="M414.0,335.0 L448.0,345.0 L466.0,362.0" stroke-width="1.49"/>
<path d="M410.0,345.0 L445.0,358.0 L470.0,366.0" stroke-width="1.38"/>
<path d="M455.0,361.0 L460.0,377.0 L452.0,380.0" stroke-width="1.38"/>
<path d="M450.0,374.0 L460.0,380.0" stroke-width="1.15"/>
<path d="M440.0,296.0 L426.0,330.0" stroke-width="1.38"/>
<path d="M455.0,366.0 L462.0,376.0 L458.0,386.0" stroke-width="1.26"/>
<path d="M445.0,396.0 L450.0,406.0"/>
<path d="M460.0,390.0 L468.0,396.0"/>
<circle cx="387.0" cy="398.8" r="17.0" stroke-width="2.18" fill="#fff"/>
<circle cx="387.0" cy="398.8" r="14.5" stroke-width="1.26"/>
<circle cx="387.0" cy="398.8" r="10.0" stroke-width="1.61"/>
<path d="M379.0,403.0 L395.0,393.0" stroke-width="1.26"/>
<path d="M373.5,420.5 L292.5,533.0 L300.0,545.0 L323.0,544.0 L360.0,519.5 L432.0,427.2 L440.0,412.0 L425.0,408.0 L400.0,415.0 L373.5,420.5" stroke-width="1.61" fill="#fff"/>
<path d="M382.5,423.9 L306.0,535.3" stroke-width="1.38"/>
<path d="M416.0,421.0 L333.0,532.0" stroke-width="1.26"/>
<path d="M426.0,431.0 L362.0,512.0" stroke-width="1.15"/>
<path d="M360.0,448.6 L396.0,463.2" stroke-width="1.15"/>
<path d="M308.2,519.5 L342.0,535.2" stroke-width="1.15"/>
<path d="M387.0,430.0 L420.0,433.0"/>
<path d="M405.0,420.0 L430.0,424.0 L438.0,414.0"/>
<path d="M375.0,416.0 L405.0,424.0"/>
<path d="M395.0,414.0 L440.0,406.0"/>
<path d="M355.0,520.0 L345.0,540.0"/>
<path d="M179.6,527.4 L223.5,533.0 L284.0,542.0 L299.0,542.0 L323.0,544.0 L349.5,578.0 L366.4,603.0 L363.0,614.0 L297.7,643.2 L248.0,616.0 L174.0,544.2 L179.6,527.4" stroke-width="1.84" fill="#fff"/>
<path d="M176.0,546.0 L250.0,622.0 L298.0,638.0 L362.0,609.0" stroke-width="1.26"/>
<path d="M190.9,539.7 L216.7,545.4 L202.0,561.0 L189.7,546.5 L190.9,539.7" stroke-width="1.72"/>
<path d="M197.0,544.0 L213.0,548.0 L203.0,557.0" stroke-width="1.15"/>
<path d="M230.5,547.2 L274.0,554.8 L278.5,564.5 L289.0,573.5 L302.5,576.5 L316.0,570.5 L322.0,569.0 L347.5,593.0 L349.0,599.0 L342.7,609.5 L302.5,627.5 L253.0,614.0 L214.0,570.5 L230.5,547.2" stroke-width="1.84" fill="#fff"/>
<path d="M236.0,551.0 L274.0,560.0" stroke-width="1.26"/>
<path d="M218.0,573.0 L250.0,606.0 L293.0,614.0 L340.0,605.0" stroke-width="1.26"/>
<path d="M342.5,594.6 L339.2,598.0 L335.7,601.1 L331.9,603.9 L327.9,606.4 L323.7,608.5 L319.4,610.3 L314.9,611.8 L310.4,612.9 L305.7,613.6 L301.0,614.0 L296.3,613.9 L291.7,613.5 L287.0,612.8 L282.5,611.6 L278.0,610.1 L273.7,608.3 L269.6,606.1 L265.6,603.5 L261.9,600.7 L258.4,597.6 L255.1,594.2 L252.2,590.5 L249.5,586.7 L247.2,582.6 L245.2,578.4 L243.5,574.0 L242.2,569.5 L241.3,564.9 L240.7,560.2 L240.5,555.5" stroke-width="3.45"/>
<path d="M337.2,593.7 L334.1,596.6 L330.7,599.2 L327.2,601.5 L323.5,603.6 L319.7,605.4 L315.7,606.9 L311.6,608.0 L307.4,608.8 L303.2,609.3 L299.0,609.5 L294.8,609.3 L290.6,608.8 L286.4,608.0 L282.3,606.9 L278.3,605.4 L274.5,603.6 L270.8,601.5 L267.3,599.2 L263.9,596.6 L260.8,593.7 L257.9,590.6 L255.3,587.2 L253.0,583.7 L250.9,580.0 L249.1,576.2 L247.6,572.2 L246.5,568.1 L245.7,563.9 L245.2,559.7 L245.0,555.5" stroke-width="1.38"/>
<path d="M331.1,593.8 L328.2,596.1 L325.0,598.2 L321.7,600.1 L318.3,601.6 L314.7,603.0 L311.1,604.0 L307.4,604.8 L303.6,605.3 L299.9,605.5 L296.1,605.4 L292.3,605.1 L288.6,604.4 L284.9,603.5 L281.4,602.3 L277.9,600.8 L274.5,599.1 L271.3,597.1 L268.2,594.9 L265.3,592.5 L262.6,589.8 L260.1,587.0 L257.9,583.9 L255.8,580.8 L254.1,577.4 L252.5,574.0 L251.3,570.4 L250.3,566.7 L249.6,563.0 L249.1,559.3 L249.0,555.5" stroke-width="1.15"/>
<path d="M330.5,610.1 L326.1,612.4 L321.6,614.3 L316.9,615.9 L312.1,617.1 L307.2,618.0 L302.3,618.4 L297.4,618.5 L292.4,618.2 L287.5,617.4 L282.7,616.4 L278.0,614.9 L273.4,613.1 L268.9,610.9 L264.7,608.3 L260.6,605.5 L256.8,602.3 L253.3,598.9 L250.0,595.1 L247.1,591.2 L244.4,587.0" stroke-width="1.15"/>
<path d="M249.2,569.8 L287.5,587.0 L281.5,594.5 L266.5,594.5 L254.5,579.5 L249.2,569.8" stroke-width="1.95"/>
<path d="M254.0,574.0 L282.0,588.0 L268.0,590.0" stroke-width="1.15"/>
<path d="M286.0,603.5 L319.0,579.5 L325.0,600.5 L289.0,606.5 L286.0,603.5" stroke-width="1.84"/>
<path d="M292.0,602.0 L316.0,586.0 L320.0,598.0" stroke-width="1.15"/>
<path d="M242.0,558.0 L262.0,562.0 L270.0,572.0 L254.0,572.0" stroke-width="1.49"/>
<path d="M278,564 C282,574 292,577 302,576 C310,575 318,572 322,569" stroke-width="1.49"/>
<path d="M262.0,612.0 L270.0,606.0"/>
<path d="M276.0,617.0 L282.0,610.0"/>
<path d="M292.0,620.0 L296.0,612.0"/>
<path d="M308.0,618.0 L310.0,610.0"/>
<path d="M322.0,612.0 L322.0,604.0"/>
<circle cx="299.0" cy="555.5" r="9.5" stroke-width="1.84" fill="#fff"/>
<circle cx="299.0" cy="555.5" r="5.0" fill="#222"/>
<text x="129.0" y="106.0" font-size="18">26</text>
<text x="384.0" y="151.0" font-size="18">30</text>
<text x="492.0" y="183.0" font-size="18">20</text>
<text x="518.0" y="301.0" font-size="18">28</text>
<text x="155.0" y="406.0" font-size="18">34</text>
<text x="484.0" y="493.0" font-size="18">48</text>
<text x="477.0" y="545.0" font-size="18">44</text>
<text x="460.0" y="589.0" font-size="18">32</text>
<text x="425.0" y="648.0" font-size="18">36</text>
<path d="M143,113 C155,131 160,140 172,140 C182,140 190,136 198,146 L238,182" stroke-width="1.72"/>
<path d="M391,154 C384,168 377,180 378,190 C380,203 388,206 385,218 L369,268" stroke-width="1.72"/>
<path d="M487,181 C470,188 465,196 463,208 C461,220 445,226 434,234" stroke-width="1.72"/>
<path d="M429,238 L431,227 L440,233 Z" stroke-width="1.15" fill="#1a1a1a"/>
<path d="M511,301 C503,308 498,311 486,311 C470,311 458,318 448,330" stroke-width="1.72"/>
<path d="M179,393 C195,380 210,370 225,368 C240,365 245,356 251,349" stroke-width="1.72"/>
<path d="M488,473 C470,455 455,440 434,429 C418,420 408,410 400,403" stroke-width="1.72"/>
<path d="M484,527 C470,510 460,492 447,489 C432,485 420,480 407,470 L386,457" stroke-width="1.72"/>
<path d="M466,571 C455,553 448,540 437,535 C425,529 412,528 402,522 L369,501" stroke-width="1.72"/>
<path d="M430,630 C422,615 415,603 406,599 C395,594 385,590 378,582 L366,571" stroke-width="1.72"/>
<path d="M817.0,506.5 L817.9,504.9 L821.7,505.0 L825.9,505.7 L830.0,506.4 L833.4,507.0 L834.4,505.7 L835.3,504.5 L836.4,503.3 L837.4,502.2 L838.5,501.0 L839.6,499.9 L838.7,496.7 L837.4,492.8 L836.2,488.7 L835.4,484.9 L836.9,483.7 L838.5,482.5 L841.8,484.0 L845.4,486.2 L848.9,488.4 L852.0,490.4 L853.3,489.6 L854.7,488.9 L856.1,488.1 L857.5,487.5 L858.9,486.8 L860.4,486.2 L860.9,483.1 L861.1,478.9 L861.6,474.8 L862.3,470.7 L864.1,470.2 L866.0,469.7 L868.5,472.2 L871.0,475.6 L873.3,479.0 L875.5,482.1 L877.0,481.9 L878.6,481.8 L880.1,481.6 L881.7,481.6 L883.3,481.5 L884.8,481.5 L886.5,479.0 L888.3,475.2 L890.3,471.6 L892.5,468.0 L894.4,468.1 L896.3,468.4 L897.7,471.5 L898.8,475.5 L899.6,479.6 L900.3,483.5 L901.8,483.9 L903.3,484.3 L904.8,484.8 L906.3,485.3 L907.8,485.9 L909.2,486.5 L911.6,484.9 L914.8,482.2 L918.0,479.6 L921.4,477.1 L923.2,477.8 L924.8,478.7 L925.0,482.0 L924.5,486.1 L923.7,490.2 L922.8,494.2 L924.0,495.2 L925.3,496.2 L926.5,497.2 L927.6,498.2 L928.8,499.3 L929.9,500.4 L932.6,500.0 L936.5,498.6 L940.5,497.4 L944.6,496.4 L946.1,497.7 L947.3,499.2 L946.4,502.1 L944.3,505.8 L942.0,509.3 L939.6,512.6 L940.3,514.1 L941.0,515.4 L941.7,516.8 L942.4,518.2 L943.1,519.7 L943.7,521.1 L946.2,521.8 L950.3,522.1 L954.4,522.5 L958.6,523.1 L959.7,524.8 L960.2,526.6 L958.4,529.0 L955.1,531.6 L951.6,533.9 L948.2,536.1 L948.0,537.7 L948.2,539.3 L948.3,540.8 L948.4,542.4 L948.5,544.0 L948.5,545.5 L950.3,547.2 L954.1,549.0 L957.7,550.9 L961.4,553.1 L961.9,555.1 L961.7,557.0 L959.3,558.5 L955.2,559.6 L951.2,560.5 L947.1,561.2 L946.2,562.6 L945.7,564.1 L945.3,565.6 L944.8,567.0 L944.2,568.5 L943.6,570.0 L944.6,572.1 L947.3,575.2 L950.0,578.4 L952.5,581.8 L952.4,583.9 L951.4,585.5 L948.8,586.1 L944.6,585.6 L940.5,584.9 L936.5,584.0 L935.0,584.8 L934.0,586.0 L933.0,587.2 L932.0,588.4 L930.9,589.6 L929.8,590.7 L929.8,592.9 L931.1,596.8 L932.3,600.8 L933.4,604.8 L932.6,606.9 L931.1,608.1 L928.5,607.7 L924.9,605.7 L921.4,603.4 L918.0,601.1 L916.2,601.1 L914.8,601.9 L913.4,602.6 L912.0,603.3 L910.6,603.9 L909.2,604.6 L908.2,606.4 L908.0,610.5 L907.6,614.7 L907.0,618.8 L905.5,620.6 L903.7,621.1 L901.5,620.0 L898.9,616.7 L896.5,613.3 L894.3,609.8 L892.6,609.0 L891.0,609.2 L889.4,609.3 L887.9,609.4 L886.3,609.5 L884.7,609.5 L883.2,610.7 L881.4,614.4 L879.4,618.1 L877.3,621.7 L875.3,623.0 L873.4,622.7 L871.7,621.0 L870.6,617.0 L869.7,612.9 L868.9,608.8 L867.7,607.3 L866.2,606.8 L864.7,606.4 L863.2,605.9 L861.8,605.3 L860.3,604.7 L858.5,605.0 L855.4,607.8 L852.2,610.5 L848.9,613.0 L846.4,613.6 L844.8,612.6 L843.8,610.6 L844.3,606.4 L845.0,602.3 L845.8,598.2 L845.4,596.2 L844.2,595.2 L843.0,594.2 L841.8,593.2 L840.7,592.1 L839.5,591.0 L837.8,590.5 L834.0,591.9 L830.0,593.1 L825.9,594.2 L823.3,593.9 L822.2,592.4 L821.9,590.2 L823.9,586.5 L826.2,583.0 L828.5,579.6 L829.0,577.4 L828.3,576.1 L827.5,574.7 L826.8,573.3 L826.2,571.9 L825.6,570.4 L824.4,569.2 L820.2,569.0 L816.1,568.7 L811.9,568.1 L809.5,566.9 L809.0,565.0 L809.4,563.0 L812.7,560.4 L816.1,557.9 L819.6,555.7 L821.0,553.8 L820.9,552.3 L820.7,550.7 L820.6,549.2 L820.5,547.6 L820.5,546.0 L820.0,544.5 L816.3,542.7 L812.6,540.8 L809.0,538.7 L807.0,536.6 L807.2,534.7 L808.2,533.0 L812.3,531.8 L816.4,530.8 L820.4,530.1 L822.7,529.0 L823.1,527.5 L823.5,526.0 L824.0,524.5 L824.6,523.0 L825.1,521.6 L825.5,520.0 L822.7,517.0 L820.0,513.8 L817.4,510.5 L816.3,507.7 L817.2,506.1 L818.6,504.7 L822.8,505.2 L827.0,505.8 L831.0,506.7 L833.6,506.6 L834.6,505.4 L835.6,504.2 L836.6,503.0 L837.7,501.9 L838.8,500.7 L839.8,499.5 L838.4,495.7 L837.1,491.7 L836.0,487.7" stroke-width="1.61"/>
<path d="M821.3,509.0 L822.2,507.5 L824.9,507.1 L827.9,507.0 L830.9,507.1 L833.4,507.0 L834.4,505.7 L835.3,504.5 L836.4,503.3 L837.4,502.2 L838.5,501.0 L839.6,499.9 L839.4,497.5 L839.0,494.6 L838.7,491.6 L838.6,488.7 L840.0,487.6 L841.4,486.6 L844.0,487.2 L846.8,488.3 L849.5,489.4 L852.0,490.4 L853.3,489.6 L854.7,488.9 L856.1,488.1 L857.5,487.5 L858.9,486.8 L860.4,486.2 L861.2,484.0 L861.9,481.1 L862.7,478.3 L863.7,475.5 L865.4,475.0 L867.2,474.6 L869.3,476.1 L871.5,478.1 L873.5,480.2 L875.5,482.1 L877.0,481.9 L878.6,481.8 L880.1,481.6 L881.7,481.6 L883.3,481.5 L884.8,481.5 L886.4,479.9 L888.2,477.5 L890.0,475.2 L892.0,472.9 L893.8,473.1 L895.6,473.3 L897.0,475.4 L898.2,478.1 L899.3,480.9 L900.3,483.5 L901.8,483.9 L903.3,484.3 L904.8,484.8 L906.3,485.3 L907.8,485.9 L909.2,486.5 L911.3,485.7 L913.8,484.2 L916.4,482.7 L919.1,481.4 L920.7,482.1 L922.3,483.0 L922.9,485.4 L923.0,488.4 L922.9,491.3 L922.8,494.2 L924.0,495.2 L925.3,496.2 L926.5,497.2 L927.6,498.2 L928.8,499.3 L929.9,500.4 L932.0,500.5 L934.9,500.1 L937.9,499.7 L940.8,499.5 L942.2,500.7 L943.2,502.2 L943.0,504.5 L941.9,507.3 L940.8,510.0 L939.6,512.7 L940.3,514.1 L941.0,515.4 L941.7,516.8 L942.4,518.2 L943.1,519.7 L943.7,521.1 L945.5,522.1 L948.3,522.8 L951.2,523.6 L954.0,524.5 L954.9,526.1 L955.3,527.9 L954.3,529.9 L952.3,532.1 L950.2,534.2 L948.0,536.1 L948.0,537.7 L948.2,539.3 L948.3,540.8 L948.4,542.4 L948.5,544.0 L948.5,545.5 L949.7,547.1 L952.1,548.9 L954.4,550.7 L956.7,552.6 L956.9,554.5 L956.7,556.2 L955.1,557.8 L952.4,559.0 L949.6,560.1 L946.9,561.1 L946.2,562.6 L945.7,564.1 L945.3,565.6 L944.8,567.0 L944.2,568.5 L943.6,570.0 L944.0,571.8 L945.6,574.3 L947.0,576.9 L948.4,579.6 L948.0,581.4 L947.1,583.0 L945.2,583.8 L942.2,584.0 L939.2,584.0 L936.3,583.8 L935.0,584.8 L934.0,586.0 L933.0,587.2 L932.0,588.4 L930.9,589.6 L929.8,590.7 L929.4,592.5 L929.9,595.4 L930.2,598.3 L930.5,601.3 L929.5,603.0 L928.1,604.0 L926.0,604.2 L923.2,603.1 L920.5,602.0 L917.8,600.8 L916.2,601.1 L914.8,601.9 L913.4,602.6 L912.0,603.3 L910.6,603.9 L909.2,604.6 L908.0,605.9 L907.4,608.8 L906.6,611.7 L905.7,614.5 L904.2,615.8 L902.5,616.3 L900.5,615.7 L898.3,613.7 L896.2,611.6 L894.2,609.4 L892.6,609.0 L891.0,609.2 L889.4,609.3 L887.9,609.4 L886.3,609.5 L884.7,609.5 L883.2,610.2 L881.5,612.6 L879.7,615.0 L877.7,617.2 L875.9,618.0 L874.1,617.8 L872.5,616.6 L871.2,613.9 L870.1,611.2 L869.0,608.4 L867.7,607.3 L866.2,606.8 L864.7,606.4 L863.2,605.9 L861.8,605.3 L860.3,604.7 L858.6,604.7 L856.1,606.3 L853.6,607.8 L850.9,609.1 L848.9,609.2 L847.3,608.3 L846.2,606.7 L846.1,603.7 L846.0,600.8 L846.1,597.8 L845.4,596.2 L844.2,595.2 L843.0,594.2 L841.8,593.2 L840.7,592.1 L839.5,591.0 L838.0,590.3 L835.2,590.8 L832.2,591.2 L829.3,591.4 L827.2,590.8 L826.2,589.4 L825.6,587.5 L826.7,584.7 L827.8,582.0 L829.0,579.3 L829.0,577.4 L828.3,576.1 L827.5,574.7 L826.8,573.3 L826.2,571.9 L825.6,570.4 L824.6,569.1 L821.7,568.5 L818.9,567.7 L816.0,566.8 L814.3,565.5 L813.8,563.8 L814.0,561.9 L816.0,559.7 L818.0,557.6 L820.2,555.6 L821.0,553.8 L820.9,552.3 L820.7,550.7 L820.6,549.2 L820.5,547.6 L820.5,546.0 L820.2,544.5 L817.8,542.8 L815.5,541.0 L813.2,539.1 L812.0,537.2 L812.2,535.4 L812.9,533.7 L815.6,532.4 L818.3,531.3 L821.1,530.2 L822.7,529.0 L823.1,527.5 L823.5,526.0 L824.0,524.5 L824.6,523.0 L825.1,521.6 L825.6,520.1 L824.0,517.6 L822.5,515.0 L821.1,512.4 L820.6,510.1 L821.5,508.6 L822.7,507.2 L825.7,507.1 L828.7,507.0 L831.6,507.1 L833.6,506.6 L834.6,505.4 L835.6,504.2 L836.6,503.0 L837.7,501.9 L838.8,500.7 L839.8,499.6 L839.3,496.7 L838.9,493.8 L838.6,490.8" stroke-width="1.03"/>
<circle cx="884.5" cy="545.5" r="63.0" stroke-width="1.38" fill="#fff"/>
<circle cx="884.5" cy="545.5" r="58.0" stroke-width="3.22"/>
<circle cx="884.5" cy="545.5" r="54.5" stroke-width="1.38"/>
<circle cx="884.5" cy="545.5" r="50.0" stroke-width="1.15"/>
<path d="M838.0,515.0 L874.0,512.0 L842.0,540.0 L838.0,515.0" stroke-width="1.61"/>
<path d="M840.0,548.0 L854.0,546.0 L852.0,566.0 L842.0,566.0 L840.0,548.0" stroke-width="1.49"/>
<path d="M896.0,498.0 L904.0,516.0" stroke-width="1.49"/>
<path d="M910.0,505.0 L922.0,510.0 L920.0,520.0" stroke-width="1.49"/>
<path d="M856.0,480.0 L870.0,476.0"/>
<path d="M830.0,500.0 L845.0,492.0"/>
<path d="M696.0,350.0 L705.0,395.0 L716.0,429.0 L760.0,464.0 L770.0,477.0 L816.0,505.0 L835.0,508.0 L846.0,500.0 L850.0,480.0 L840.0,440.0 L800.0,415.0 L760.0,400.0 L747.0,387.0" stroke-width="1.72" fill="#fff"/>
<path d="M716.0,429.0 L720.0,429.0 L742.0,418.0" stroke-width="1.38"/>
<path d="M735.0,423.0 L760.0,436.0 L805.0,430.0 L845.0,425.0" stroke-width="1.26"/>
<path d="M762.6,447.5 L783.2,436.5 L841.0,488.7 L835.5,505.2 L816.2,502.5 L764.0,458.5 L762.6,447.5" stroke-width="1.84"/>
<path d="M768.0,449.0 L783.0,441.0 L836.0,490.0 L832.0,500.0" stroke-width="1.26"/>
<path d="M770.0,456.0 L822.0,500.0" stroke-width="1.15"/>
<path d="M786.0,440.0 L838.0,486.0" stroke-width="1.15"/>
<path d="M740.0,420.0 L756.0,432.0"/>
<path d="M760.0,464.0 L770.0,455.0"/>
<path d="M790.0,465.0 L800.0,458.0"/>
<path d="M820.0,470.0 L830.0,462.0"/>
<path d="M801.7,299.2 L803.2,298.7 L804.4,297.9 L805.5,297.0 L806.7,296.2 L808.0,295.4 L809.2,294.6 L810.0,293.0 L810.0,289.8 L810.1,286.5 L810.5,283.2 L811.7,281.7 L813.3,281.1 L815.4,281.6 L817.9,283.8 L820.2,286.0 L822.4,288.4 L824.0,288.8 L825.4,288.5 L826.9,288.2 L828.3,288.0 L829.7,287.8 L831.2,287.7 L832.6,286.7 L834.0,283.8 L835.5,280.9 L837.3,278.1 L839.0,277.1 L840.8,277.2 L842.4,278.4 L843.7,281.5 L844.9,284.5 L845.8,287.6 L847.1,288.8 L848.5,289.1 L849.9,289.5 L851.3,290.0 L852.7,290.4 L854.0,290.9 L855.7,290.8 L858.2,288.8 L860.8,286.8 L863.6,285.1 L865.7,284.8 L867.2,285.6 L868.2,287.3 L868.1,290.6 L867.8,293.9 L867.4,297.1 L867.9,298.8 L869.0,299.7 L870.1,300.7 L871.2,301.6 L872.2,302.7 L873.2,303.7 L874.6,304.4 L877.8,303.7 L881.0,303.1 L884.2,302.6 L886.4,303.2 L887.4,304.6 L887.7,306.5 L886.2,309.4 L884.5,312.2 L882.7,314.9 L882.3,316.8 L882.9,318.1 L883.5,319.4 L884.0,320.8 L884.5,322.2 L885.0,323.5 L885.8,324.8 L889.0,325.5 L892.1,326.4 L895.2,327.4 L897.1,328.8 L897.4,330.5 L897.0,332.3 L894.3,334.3 L891.6,336.1 L888.8,337.8 L887.5,339.3 L887.5,340.7 L887.4,342.2 L887.3,343.6 L887.2,345.1 L887.0,346.5 L887.1,348.0 L889.6,350.0 L892.1,352.1 L894.5,354.4 L895.7,356.5 L895.2,358.1 L894.2,359.7 L890.9,360.3 L887.7,360.8 L884.5,361.1 L882.5,361.8 L881.8,363.1 L881.2,364.4 L880.5,365.6 L879.7,366.9 L878.9,368.1 L878.2,369.4 L879.6,372.3 L880.9,375.2 L882.1,378.3 L882.4,380.8 L881.2,382.1 L879.8,383.2 L876.6,382.3 L873.5,381.4 L870.4,380.3 L868.2,379.9 L867.1,380.8 L865.9,381.7 L864.7,382.5 L863.5,383.3 L862.3,384.1 L861.0,384.8 L861.1,388.0 L860.9,391.2 L860.7,394.5 L859.9,397.0 L858.3,397.7 L856.6,398.2 L854.1,396.1 L851.7,393.8 L849.4,391.5 L847.5,390.1 L846.1,390.4 L844.7,390.7 L843.3,390.9 L841.8,391.1 L840.4,391.3 L838.9,391.4 L837.6,394.1 L836.1,397.0 L834.4,399.8 L832.6,401.9 L830.9,401.8 L829.1,401.7 L827.8,398.7 L826.6,395.6 L825.5,392.6 L824.5,390.3 L823.0,390.0 L821.6,389.6 L820.2,389.2 L818.9,388.8 L817.5,388.3 L816.1,387.8 L813.8,389.5 L811.2,391.4 L808.5,393.3 L805.9,394.5 L804.4,393.7 L802.9,392.8 L802.8,389.6 L803.1,386.4 L803.5,383.2 L803.6,380.5 L802.4,379.6 L801.3,378.7 L800.2,377.7 L799.2,376.7 L798.2,375.7 L797.2,374.6 L794.4,375.1 L791.3,375.7 L788.0,376.2 L785.0,376.3 L784.0,374.9 L783.0,373.4 L784.2,370.7 L785.9,367.8 L787.6,365.1 L789.0,362.7 L788.3,361.4 L787.7,360.1 L787.2,358.7 L786.7,357.4 L786.2,356.0 L785.7,354.6 L783.2,353.8 L780.1,353.0 L776.9,352.0 L774.0,350.9 L773.7,349.1 L773.5,347.4 L775.7,345.4 L778.3,343.6 L781.1,341.8 L783.5,340.3 L783.5,338.8 L783.5,337.4 L783.6,335.9 L783.7,334.5 L783.9,333.0 L784.1,331.6 L782.3,329.8 L779.9,327.7 L777.4,325.5 L775.2,323.2 L775.7,321.5 L776.2,319.8 L778.8,318.9 L782.1,318.4 L785.3,318.0 L788.3,317.7 L788.9,316.4 L789.6,315.1 L790.3,313.8 L791.0,312.6 L791.8,311.4 L792.6,310.1 L791.9,307.8 L790.5,304.9 L789.3,301.9 L788.2,298.7 L789.3,297.4 L790.5,296.1 L793.2,296.3 L796.4,297.2 L799.4,298.3 L802.3,299.4 L803.5,298.5 L804.6,297.6 L805.8,296.8 L807.0,296.0 L808.3,295.2 L809.5,294.5" stroke-width="1.49"/>
<circle cx="835.5" cy="339.5" r="50.5" stroke-width="1.61" fill="#fff"/>
<circle cx="835.5" cy="339.5" r="45.0" stroke-width="2.53"/>
<circle cx="835.5" cy="339.5" r="42.5" stroke-width="1.15"/>
<circle cx="835.5" cy="339.5" r="47.5" stroke-width="1.15"/>
<path d="M878.0,318.0 L886.0,314.0 L888.0,330.0 L882.0,334.0" stroke-width="1.49"/>
<path d="M866.0,366.0 L880.0,372.0" stroke-width="1.38"/>
<path d="M874.0,345.0 L882.0,350.0 L878.0,372.0" stroke-width="1.49"/>
<path d="M862.0,318.0 L872.0,312.0 L876.0,338.0" stroke-width="1.49"/>
<path d="M858.0,310.0 L866.0,304.0 L870.0,316.0" stroke-width="1.38"/>
<path d="M797.0,320.0 L810.0,318.0 L806.0,332.0" stroke-width="1.49"/>
<path d="M850.0,306.0 L862.8,310.2 L861.0,324.2 L852.2,315.5 L850.0,306.0" stroke-width="1.72"/>
<path d="M868.0,319.0 L875.0,322.5 L868.0,347.0 L862.8,343.5 L868.0,319.0" stroke-width="1.72"/>
<path d="M861.0,350.0 L876.0,354.0 L870.0,364.0" stroke-width="1.49"/>
<path d="M872.0,366.0 L880.0,368.0 L876.0,380.0" stroke-width="1.38"/>
<path d="M845.5,322.2 L848.4,324.2 L850.8,326.6 L852.8,329.5 L854.3,332.7 L855.2,336.0 L855.5,339.5 L855.2,343.0 L854.3,346.3 L852.8,349.5 L850.8,352.4 L848.4,354.8 L845.5,356.8" stroke-width="1.38"/>
<path d="M686.5,403.5 L684.4,399.3 L682.7,394.9 L681.6,390.3 L681.1,385.6 L681.1,380.9 L681.6,376.2 L682.6,371.6 L684.2,367.1 L686.3,362.9 L688.8,358.9 L691.8,355.2 L695.2,352.0 L699.0,349.1 L703.0,346.7 L707.3,344.7 L711.8,343.3 L716.4,342.4 L721.1,342.0 L725.9,342.2 L730.5,342.9 L740.0,368.0 L747.0,380.0 L747.0,410.0 L742.0,418.0 L720.0,429.0 L716.0,429.0 L690.0,409.0 Z" stroke-width="2.07" fill="#fff"/>
<path d="M716.0,425.0 L693.7,406.8 L690.5,402.4 L688.0,397.5 L686.2,392.4 L685.2,387.0 L685.0,381.6 L685.6,376.2 L687.0,370.9 L689.2,365.9 L692.0,361.3 L695.6,357.1 L699.6,353.5 L704.2,350.6 L709.2,348.3 L714.4,346.8 L719.8,346.1 L725.2,346.1" stroke-width="1.15"/>
<path d="M741.0,372.0 L744.0,410.0" stroke-width="1.26"/>
<circle cx="722.5" cy="383.5" r="17.0" stroke-width="2.76"/>
<circle cx="722.5" cy="383.5" r="14.0" stroke-width="1.15"/>
<circle cx="722.5" cy="383.5" r="11.0" stroke-width="1.72"/>
<circle cx="722.5" cy="383.5" r="4.0" stroke-width="1.61"/>
<circle cx="734.0" cy="407.0" r="7.8" stroke-width="2.53"/>
<circle cx="734.0" cy="407.0" r="3.5" stroke-width="1.61"/>
<path d="M818.0,230.0 L808.0,232.0 L784.0,244.0 L746.0,270.0 L723.0,290.0 L716.0,300.0 L706.0,326.0 L696.0,350.0 L712.0,341.0 L737.0,341.0 L780.0,335.0 L782.0,328.0 L770.0,314.0 L803.0,298.0 L826.0,283.0 L842.0,274.0 L827.0,246.0 L818.0,230.0" stroke-width="1.72" fill="#fff"/>
<path d="M700.0,345.0 L722.5,293.8 L728.8,285.0 L747.5,271.2 L762.5,260.0" stroke-width="1.26"/>
<path d="M770.0,252.0 L807.0,232.0" stroke-width="1.15"/>
<path d="M747.0,273.0 L790.0,245.0 L812.0,236.0" stroke-width="1.38"/>
<path d="M750.0,276.0 L792.0,249.0 L812.0,240.0" stroke-width="1.15"/>
<path d="M754.0,291.0 L804.5,256.0" stroke-width="1.49"/>
<path d="M752.0,288.0 L802.0,253.0" stroke-width="1.15"/>
<path d="M726.0,290.0 L748.0,274.0" stroke-width="1.15"/>
<path d="M722.5,296.0 L750.0,290.0 L753.8,296.0 L770.0,330.0 L755.0,336.0 L737.5,338.8 L720.0,341.0 L712.5,330.0 L722.5,296.0" stroke-width="1.72"/>
<path d="M732.5,301.0 L741.0,337.0" stroke-width="1.49"/>
<path d="M737.5,300.0 L746.0,336.0" stroke-width="1.38"/>
<path d="M744.0,298.0 L752.5,334.0" stroke-width="1.38"/>
<path d="M724.0,306.0 L754.0,298.0" stroke-width="1.26"/>
<path d="M716.0,320.0 L740.0,316.0" stroke-width="1.15"/>
<path d="M740.0,330.0 L768.0,326.0" stroke-width="1.26"/>
<path d="M749.4,308.6 L750.3,306.9 L751.7,305.5 L753.4,304.5 L755.3,304.0 L757.2,304.1 L759.1,304.7 L760.7,305.8 L761.9,307.3 L762.7,309.1 L763.0,311.0 L762.7,312.9 L761.9,314.7 L760.7,316.2 L759.1,317.3 L757.2,317.9 L755.3,318.0 L753.4,317.5 L751.7,316.5 L750.3,315.1 L749.4,313.4" stroke-width="1.49"/>
<path d="M751.8,309.5 L752.6,308.1 L753.8,307.1 L755.2,306.6 L756.8,306.6 L758.2,307.1 L759.4,308.1 L760.2,309.5 L760.5,311.0 L760.2,312.5 L759.4,313.9 L758.2,314.9 L756.8,315.4 L755.2,315.4 L753.8,314.9 L752.6,313.9 L751.8,312.5" stroke-width="1.15"/>
<path d="M728.8,285.0 L744.0,278.0 L752.0,290.0" stroke-width="1.38"/>
<path d="M735.0,282.0 L745.0,296.0" stroke-width="1.15"/>
<path d="M720.0,302.0 L716.0,338.0" stroke-width="1.26"/>
<path d="M767.5,313.8 L775.0,313.8 L792.5,313.8 L782.5,330.0 L775.0,313.8" stroke-width="1.49"/>
<path d="M790.0,292.5 L800.0,293.8 L806.0,298.0" stroke-width="1.26"/>
<path d="M803.3,250.0 L827.3,246.0 L842.0,274.0 L826.0,283.3 L812.7,270.0 L803.3,250.0" stroke-width="2.18" fill="#fff"/>
<path d="M806.0,256.0 L828.0,252.0" stroke-width="1.49"/>
<path d="M810.0,261.0 L823.3,283.3" stroke-width="1.38"/>
<path d="M816.7,260.7 L830.0,282.0" stroke-width="1.38"/>
<path d="M823.3,259.3 L835.3,278.0" stroke-width="1.38"/>
<path d="M905.0,197.0 L913.5,193.5 L934.5,191.2 L951.0,237.0 L949.1,236.9 L950.6,240.7 L951.5,244.6 L952.0,248.6 L951.9,252.7 L951.3,256.7 L950.1,260.6 L948.5,264.3 L946.4,267.8 L943.9,270.9 L940.9,273.7 L937.7,276.1 L934.1,278.1 L930.3,279.6 L926.4,280.5 L922.4,281.0 L918.3,280.9 L914.3,280.3 L910.4,279.1 L897.0,280.5 L886.5,273.0 L880.0,274.0 L895.0,240.0 L905.0,197.0" stroke-width="1.95" fill="#fff"/>
<path d="M934.5,191.2 L951.0,237.0 L952.5,250.5 L948.0,268.5" stroke-width="3.68"/>
<path d="M914.1,217.4 L918.5,217.0 L922.8,217.3 L927.1,218.2 L931.1,219.8 L934.9,222.0 L938.3,224.7 L941.2,228.0 L943.6,231.6 L945.4,235.6 L946.5,239.8 L947.0,244.1 L946.8,248.5 L945.9,252.8 L944.4,256.8 L942.2,260.6 L939.5,264.0 L936.3,267.0 L932.7,269.4 L928.7,271.3 L924.5,272.4 L920.2,273.0 L915.9,272.8 L911.6,272.0 L907.5,270.5 L903.7,268.4 L900.2,265.8 L897.2,262.6 L894.8,259.0" stroke-width="7.47"/>
<path d="M916.6,217.1 L920.7,217.1 L924.9,217.6 L928.9,218.8 L932.7,220.6 L936.2,222.9 L939.3,225.7 L941.9,228.9 L944.1,232.5 L945.7,236.4 L946.6,240.5 L947.0,244.7 L946.7,248.8 L945.9,252.9 L944.4,256.8 L942.3,260.5 L939.8,263.8 L936.7,266.7 L933.3,269.1 L929.6,270.9 L925.6,272.2 L921.4,272.9 L917.3,272.9 L913.1,272.4 L909.1,271.2 L905.3,269.4 L901.8,267.1 L898.7,264.3 L896.1,261.1" stroke-width="1.15" stroke="#fff"/>
<path d="M926.5,224.3 L930.2,226.0 L933.4,228.4 L936.2,231.3 L938.4,234.7 L940.0,238.4 L940.8,242.3 L941.0,246.3 L940.3,250.3 L939.0,254.1 L937.0,257.6 L934.4,260.7 L931.3,263.2 L927.8,265.2 L923.9,266.4 L920.0,267.0 L915.9,266.8 L912.0,265.9 L908.3,264.2 L905.0,262.0 L902.1,259.1" stroke-width="1.38"/>
<circle cx="913.5" cy="243.0" r="10.5" stroke-width="1.15" fill="#111"/>
<circle cx="913.5" cy="243.0" r="5.2" stroke-width="1.15" fill="#fff"/>
<circle cx="913.5" cy="243.0" r="3.0" fill="#111"/>
<path d="M912.0,196.0 L915.0,205.0 L910.0,215.0 L908.0,228.0" stroke-width="1.49"/>
<path d="M921.0,226.0 L935.0,236.0 L938.0,250.0" stroke-width="1.49"/>
<path d="M926.0,232.0 L932.0,246.0" stroke-width="1.26"/>
<path d="M894.0,256.0 L905.0,258.0 L915.0,262.0" stroke-width="1.49"/>
<path d="M900.0,262.0 L906.0,270.0 L914.0,268.0" stroke-width="1.38"/>
<path d="M888.0,274.0 L900.0,282.0 L918.0,286.0 L938.0,281.0" stroke-width="1.26"/>
<path d="M820.0,215.0 L821.0,172.0 L822.5,145.0 L826.1,126.0 L827.5,121.9 L829.4,118.0 L831.9,114.5 L834.9,111.3 L838.2,108.6 L841.9,106.4 L845.9,104.7 L850.1,103.6 L854.4,103.0 L858.7,103.1 L863.0,103.8 L867.1,105.1 L871.0,106.9 L874.7,109.2 L877.9,112.1 L880.8,115.3 L883.1,119.0 L884.9,122.9 L886.2,127.0 L886.9,131.3 L889.0,137.5 L897.5,165.0 L905.0,190.0 L907.5,202.5 L905.0,220.0 L895.0,240.0 L880.7,274.0 L871.3,282.0 L848.7,280.7 L844.7,274.0 L820.7,230.0 L820.0,215.0" stroke-width="1.95" fill="#fff"/>
<path d="M826,163 L827.5,142 C829,122 840,112 856,112 C872,112 884,124 884,136 L881,142" stroke-width="1.38"/>
<path d="M829,160 L830,143 C832,126 842,116 856,116 C870,116 880,126 880,137 L878,142" stroke-width="1.15"/>
<path d="M878.0,142.0 L884.0,153.0 L893.0,176.0" stroke-width="1.15"/>
<path d="M881.0,142.0 L886.0,150.0 L895.0,168.0 L898.0,175.0" stroke-width="1.26"/>
<path d="M883.0,150.0 L892.0,172.0" stroke-width="1.15"/>
<circle cx="856.0" cy="135.0" r="17.5" stroke-width="2.07"/>
<circle cx="856.0" cy="135.0" r="14.0" stroke-width="1.26"/>
<path d="M864.7,140.0 L856.0,145.0 L847.3,140.0 L847.3,130.0 L856.0,125.0 L864.7,130.0 Z" stroke-width="1.49"/>
<circle cx="851.0" cy="174.0" r="4.0" stroke-width="1.38"/>
<path d="M821.0,192.5 L900.0,172.5" stroke-width="1.38"/>
<path d="M821.0,201.0 L904.0,182.5" stroke-width="1.38"/>
<path d="M821.0,207.5 L905.0,188.0" stroke-width="1.15"/>
<circle cx="832.5" cy="224.0" r="11.0" stroke-width="1.72"/>
<circle cx="832.5" cy="224.0" r="8.5" stroke-width="1.15"/>
<path d="M837.3,225.3 L834.6,226.1 L833.8,228.8 L831.7,226.9 L829.0,227.5 L829.6,224.8 L827.7,222.7 L830.4,221.9 L831.2,219.2 L833.3,221.1 L836.0,220.5 L835.4,223.2 Z" stroke-width="1.38"/>
<circle cx="858.7" cy="274.0" r="10.7" stroke-width="1.72"/>
<circle cx="858.7" cy="274.0" r="8.3" stroke-width="1.15"/>
<path d="M863.5,275.3 L860.8,276.1 L860.0,278.8 L857.9,276.9 L855.2,277.5 L855.8,274.8 L853.9,272.7 L856.6,271.9 L857.4,269.2 L859.5,271.1 L862.2,270.5 L861.6,273.2 Z" stroke-width="1.38"/>
<path d="M850.0,220.0 L886.0,205.0 L890.0,212.5 L870.0,255.0 L862.5,252.5 L851.0,230.0 L850.0,220.0" stroke-width="1.84"/>
<path d="M856.0,224.0 L884.0,211.0 L866.0,247.0" stroke-width="1.26"/>
<path d="M852.0,228.0 L864.0,232.0 L870.0,255.0" stroke-width="1.26"/>
<path d="M844.5,247.0 L848.0,247.0 L848.0,250.5 L844.5,250.5 L844.5,247.0" stroke-width="1.26"/>
<circle cx="898.0" cy="212.0" r="3.0" stroke-width="1.26"/>
<path d="M905.0,220.0 L900.0,232.0 L882.0,272.0" stroke-width="1.15"/>
<path d="M805,321 L796,337.5 L769,354 C764,357 763,360 763,365 L765,392 L770,414 L781,429.75 L791.5,421 L844,409 L853,416 L855,420 L872,470 L889,522 C893,530 905,530 907,522 L874,420 L848.5,315 C846,309 842,309 838,310 Z" stroke-width="1.84" fill="#fff"/>
<path d="M776.5,364.5 L817.0,341.3 L821.5,343.5 L824.5,349.5 L838.0,358.5 L844.0,363.0 L848.5,396.0 L844.0,402.0 L809.5,405.0 L803.5,403.5 L781.0,388.5 L776.5,364.5" stroke-width="1.84"/>
<path d="M781.0,369.0 L816.0,349.0 L837.0,362.0 L842.0,394.0 L810.0,399.0 L786.0,385.0 L781.0,369.0" stroke-width="1.15"/>
<path d="M845.5,318.0 L869.5,420.0 L900.0,520.0" stroke-width="1.38"/>
<path d="M862.0,445.0 L882.0,445.0"/>
<path d="M874.0,480.0 L894.0,480.0"/>
<circle cx="835.0" cy="338.3" r="4.8" stroke-width="1.49"/>
<path d="M768.8,419.2 L784.5,412.2 L791.5,421.0 L781.0,429.8 L768.8,419.2" stroke-width="1.61"/>
<path d="M791.5,417.5 L844.0,408.8 L852.8,415.8" stroke-width="1.26"/>
<path d="M762.5,392.0 L764.4,392.4 L766.0,393.5 L767.1,395.1 L767.5,397.0 L767.1,398.9 L766.0,400.5 L764.4,401.6 L762.5,402.0" stroke-width="1.26"/>
<clipPath id="cp1"><path d="M775.6,365.0 L818.1,340.6 L822.4,343.8 L824.5,351.3 L838.3,359.8 L841.5,363.0 L849.0,396.0 L846.8,400.1 L809.6,407.6 L805.4,406.5 L781.0,389.5 Z"/></clipPath><g clip-path="url(#cp1)">
<path d="M835.5,384.5 L831.9,384.4 L828.3,383.9 L824.8,383.2 L821.3,382.2 L818.0,380.9 L814.7,379.4 L811.6,377.6 L808.6,375.6 L805.8,373.3 L803.2,370.9 L800.8,368.2 L798.6,365.3 L796.7,362.3 L795.0,359.1 L793.6,355.8 L792.4,352.4 L791.5,348.9 L790.9,345.4 L790.6,341.8 L790.5,338.2 L790.8,334.6 L791.3,331.0 L792.1,327.5 L793.2,324.1" stroke-width="2.99"/>
<path d="M835.5,381.5 L832.1,381.4 L828.8,381.0 L825.5,380.3 L822.3,379.4 L819.1,378.2 L816.1,376.8 L813.2,375.1 L810.4,373.2 L807.8,371.1 L805.4,368.8 L803.1,366.3 L801.1,363.6 L799.3,360.8 L797.7,357.8 L796.4,354.7 L795.3,351.5 L794.4,348.3 L793.9,345.0 L793.6,341.6 L793.5,338.3 L793.7,334.9 L794.2,331.6 L795.0,328.3 L796.0,325.1" stroke-width="1.26"/>
<path d="M835.5,387.5 L831.7,387.3 L827.9,386.9 L824.1,386.1 L820.4,385.1 L816.8,383.7 L813.3,382.1 L810.0,380.2 L806.8,378.0 L803.9,375.6 L801.1,372.9 L798.5,370.1 L796.2,367.0 L794.1,363.8 L792.3,360.4 L790.8,356.9 L789.5,353.3 L788.6,349.5 L787.9,345.8 L787.6,341.9 L787.5,338.1 L787.8,334.3 L788.4,330.5 L789.2,326.7 L790.4,323.1" stroke-width="1.26"/>
<path d="M853.4,346.0 L852.3,348.5 L850.8,350.7 L849.1,352.8 L847.1,354.6 L844.8,356.1 L842.4,357.2 L839.8,358.0 L837.2,358.4 L834.5,358.5 L831.8,358.1 L829.2,357.4 L826.7,356.4 L824.4,354.9 L822.4,353.2 L820.6,351.2 L819.0,349.0" stroke-width="1.61"/>
<path d="M850.5,345.0 L849.6,347.0 L848.4,349.0 L846.9,350.7 L845.2,352.2 L843.3,353.4 L841.3,354.4 L839.1,355.1 L836.9,355.4 L834.6,355.5 L832.4,355.2 L830.2,354.6 L828.1,353.7 L826.2,352.5 L824.4,351.1 L822.9,349.4 L821.6,347.5" stroke-width="1.15"/>
<path d="M810.7,354.4 L813.9,354.4 L834.1,376.8 L830.9,378.9 L809.6,369.3 L807.5,361.9 L810.7,354.4" stroke-width="1.84"/>
<path d="M812.0,358.0 L830.0,376.0 L812.0,368.0" stroke-width="1.15"/>
<path d="M822.4,386.3 L837.3,387.4 L834.1,395.9 L822.4,386.3" stroke-width="1.49"/>
<path d="M800.0,388.0 L808.0,382.0 L815.0,392.0" stroke-width="1.26"/>
<path d="M780.0,372.0 L790.0,368.0 L795.0,380.0" stroke-width="1.26"/>
<path d="M839.0,378.0 L846.0,380.0" stroke-width="1.15"/>
<path d="M830.0,398.0 L846.0,394.0" stroke-width="1.15"/>
</g>
<path d="M827.0,599.5 L831.5,608.5 L840.5,615.3 L899.0,628.8 L910.3,626.6 L948.5,595.0 L966.5,568.0 L998.0,534.3 L1004.8,510.6 L993.6,496.0 L944.0,509.5 L896.8,525.3 L874.3,529.8 L849.5,565.8 L827.0,599.5" stroke-width="1.95" fill="#fff"/>
<path d="M831.0,605.0 L900.0,622.0 L947.0,590.0 L964.0,564.0 L995.0,531.0" stroke-width="1.26"/>
<path d="M993.6,496.0 L998.0,520.0 L984.0,545.0" stroke-width="1.15"/>
<path d="M962.0,518.5 L980.0,509.5 L989.0,518.5 L977.8,532.0 L962.0,518.5" stroke-width="1.72"/>
<path d="M865.3,559.0 L869.8,563.5 L885.5,563.5 L901.3,554.5 L905.8,538.8 L944.0,525.3 L962.0,536.5 L966.5,545.5 L953.0,568.0 L935.0,586.0 L899.0,599.5 L854.0,595.0 L849.5,588.3 L865.3,559.0" stroke-width="1.84" fill="#fff"/>
<clipPath id="cp2"><path d="M865.3,559.0 L869.8,563.5 L885.5,563.5 L901.3,554.5 L905.8,538.8 L944.0,525.3 L962.0,536.5 L966.5,545.5 L953.0,568.0 L935.0,586.0 L899.0,599.5 L854.0,595.0 L849.5,588.3 Z"/></clipPath><g clip-path="url(#cp2)">
<path d="M937.1,521.0 L939.3,526.5 L940.9,532.1 L942.0,537.9 L942.5,543.8 L942.3,549.7 L941.6,555.6 L940.3,561.3 L938.4,566.9 L935.9,572.3 L933.0,577.4 L929.5,582.1 L925.5,586.5 L921.1,590.5 L916.4,594.0 L911.3,596.9 L905.9,599.4 L900.3,601.3 L894.6,602.6 L888.7,603.3 L882.8,603.5 L876.9,603.0 L871.1,601.9 L865.5,600.3 L860.0,598.1 L854.8,595.3 L849.9,592.0 L845.3,588.3 L841.2,584.1 L837.5,579.5 L834.3,574.5" stroke-width="3.22"/>
<path d="M935.2,527.0 L936.8,532.0 L937.8,537.1 L938.4,542.2 L938.5,547.4 L938.0,552.5 L937.1,557.6 L935.7,562.6 L933.8,567.5 L931.5,572.1 L928.7,576.5 L925.6,580.6 L922.0,584.3 L918.1,587.8 L913.9,590.8 L909.4,593.4 L904.7,595.6 L899.8,597.3 L894.8,598.5 L889.7,599.3 L884.5,599.5 L879.3,599.3 L874.2,598.5 L869.2,597.3 L864.3,595.6 L859.6,593.4 L855.1,590.8 L850.9,587.8 L847.0,584.3 L843.4,580.6 L840.3,576.5" stroke-width="1.26"/>
<path d="M933.7,554.2 L932.7,558.8 L931.2,563.3 L929.3,567.6 L927.1,571.7 L924.4,575.6 L921.4,579.3 L918.0,582.6 L914.4,585.6 L910.4,588.2 L906.3,590.5 L901.9,592.4 L897.4,593.8 L892.8,594.8 L888.1,595.4 L883.4,595.5 L878.7,595.2 L874.0,594.4 L869.5,593.2 L865.0,591.6 L860.8,589.5 L856.7,587.1 L852.9,584.3 L849.4,581.1 L846.2,577.6" stroke-width="1.15"/>
</g>
<path d="M866.0,570.0 L900.0,590.0 L872.0,592.0 L866.0,570.0" stroke-width="1.61"/>
<path d="M902.0,570.0 L930.0,556.0 L918.0,582.0 L902.0,570.0" stroke-width="1.61"/>
<path d="M912.0,542.0 L930.0,536.0 L942.0,548.0" stroke-width="1.38"/>
<circle cx="884.4" cy="545.5" r="5.0" stroke-width="1.61"/>
<path d="M849.5,565.8 L856.0,575.0"/>
<text x="717.0" y="104.0" font-size="18">26</text>
<text x="665.0" y="195.0" font-size="18">30</text>
<text x="1013.0" y="274.0" font-size="18">20</text>
<text x="969.0" y="402.0" font-size="18">34</text>
<text x="994.0" y="467.0" font-size="18">46</text>
<text x="629.0" y="464.0" font-size="18">42</text>
<text x="644.0" y="499.0" font-size="18">48</text>
<text x="685.0" y="560.0" font-size="18">32</text>
<text x="758.0" y="637.0" font-size="18">36</text>
<path d="M731,111 C745,125 752,138 764,138 C775,138 782,140 792,147 L827,178" stroke-width="1.72"/>
<path d="M679,200 C690,212 698,226 712,228 C725,229 735,236 748,248 L775,269" stroke-width="1.72"/>
<path d="M1010,272 C998,278 990,285 988,296 C986,308 970,318 956,326" stroke-width="1.72"/>
<path d="M952,328 L956,318 L962,326 Z" stroke-width="1.15" fill="#1a1a1a"/>
<path d="M966,385 C955,376 945,372 925,371 C910,370 900,366 893,361" stroke-width="1.72"/>
<path d="M988,454 C975,444 960,437 930,436 C905,435 885,430 871,427" stroke-width="1.72"/>
<path d="M640,443 C648,433 652,425 660,420 C668,414 676,408 690,406 C702,405 712,398 722,384" stroke-width="1.72"/>
<path d="M656,479 C664,469 670,460 678,454 C688,446 693,440 704,438 C716,436 722,425 732,408" stroke-width="1.72"/>
<path d="M690.5,540 C700,527 712,508 726,501 C733,498 740,501 745,500 C752,496 760,486 766,473" stroke-width="1.72"/>
<path d="M764,618 C770,605 776,595 786,590 C798,585 812,582 824,571" stroke-width="1.72"/>
</svg>
<div class="t" style="left:1162px;top:228px;font-size:22px;transform-origin:0 0;transform:rotate(90deg) scaleX(0.93);">DE 10 2023 119 709 A1</div>
<div class="t" style="left:1162px;top:471px;font-size:22px;transform-origin:0 0;transform:rotate(90deg) scaleX(0.915);">2025.01.30</div>
<div class="t rot" style="left:53.5px;top:383px;font-size:14.5px;">19/30</div>
<div class="t fig" style="left:470px;top:678px;">Fig. 2</div>
<div class="t fig" style="left:1009px;top:680px;">Fig. 3</div>
</body></html>
